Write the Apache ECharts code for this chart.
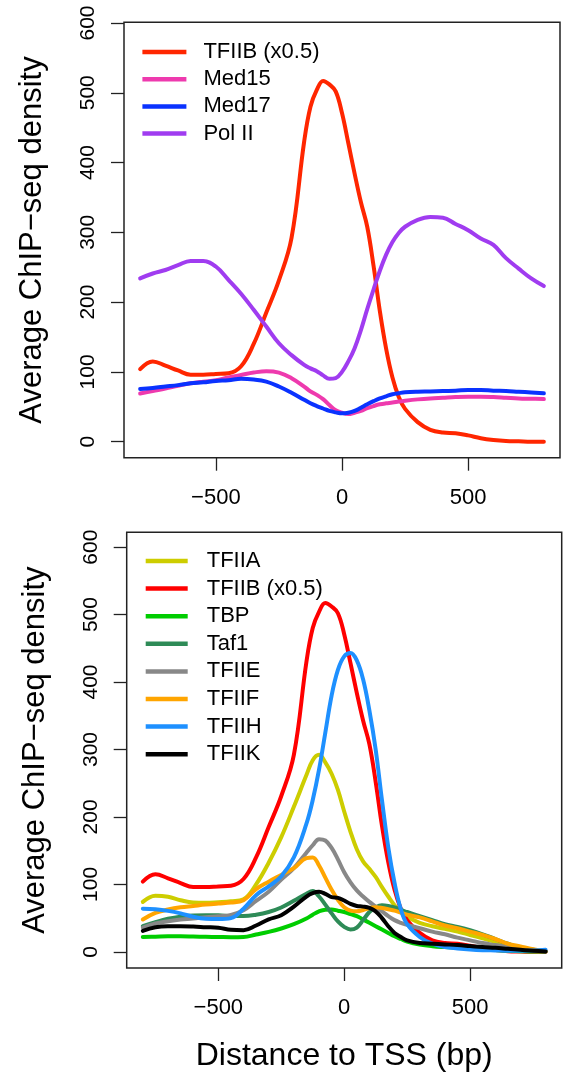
<!DOCTYPE html>
<html>
<head>
<meta charset="utf-8">
<script src="https://cdn.jsdelivr.net/npm/echarts@6/dist/echarts.min.js"></script>
<style>
html,body{margin:0;padding:0;background:#fff;}
#c{width:573px;height:1080px;}
</style>
</head>
<body>
<div id="c"></div>
<script>
// Distance to TSS (bp)
const DIST = [-800,-750,-700,-650,-600,-550,-500,-450,-400,-350,-300,-250,-200,-150,
  -125,-100,-75,-50,-25,0,25,50,75,100,125,150,175,200,225,250,
  300,350,400,450,500,550,600,650,700,750,800];

// Top panel
const TFIIB = [104,115,109,102,96,96,97,98,108,140,185,231,292,430,
  480,504,517,512,502,471,428,384,343,308,252,187,133,92,64,47,
  28,17,13,12,9,5,2.5,1,0.5,0,0];
const MED15 = [69,72.6,76,80,83.6,86,88,92,95.5,99,101,99,91,79,
  72,67,61,52.5,45,41.5,39.6,41.5,44,48,51,53.5,55,56,57.5,58.7,
  60.6,62,63,64,64.5,64.5,64,63,62,61.5,61];
const MED17 = [75.5,77,79,81,83.6,85,87,88,90,89,86,79,70,60,
  55,51,47.5,44,42,40.6,41.5,44,48.7,53.5,58,62,65,68,69.5,70.7,
  71.6,72,72.6,73,74,74,73,72.6,71.5,70.5,69.3];
const POL2 = [234,241,246,253,259,259,251,232,212,189,165,141,124,110,
  105,101,95,90,91,100,115,134,160,190,218,245,268,286,299,308,
  318,322,321,312,303,291,282,263,248,234,223];

// Bottom panel
const TFIIA = [74,83,81.5,76.5,73,72.6,73.6,75,78,100,132,170,215,262,
  284,292,281,264,240,208,178,152,134,123,111,96,82,69,59,52,
  43,38,34,30,25,20,15,10,6,3,1];
const TBP = [22,22.5,23,23,22.7,22.3,22,21.7,22,25.7,29.6,34.6,41,49.4,
  55,60,62.5,62.7,61,59,56,53,48,43,38,33,28,23,19,15.3,
  10.9,8.4,7,6,5,4,2.5,1.5,1,0.5,0.5];
const TAF1 = [38,44,49,52,54,54.3,54.3,53,53,55,59,65.7,75.6,86,
  90,82,70,57,45,37,33,36,47,59,66,69,68,65.7,62,59,
  53,47,41,37,32,26,19,12,6,3,1];
const TFIIE = [36,42,45.4,48,49.4,51.4,52.8,54.8,61.7,75.6,89,107,124,147,
  158,167,165,154,137,118,103,91,82,74,67,60,53,47,43,40,
  35,30,26,21,17,13,10,7,5,2,1];
const TFIIF = [48,57.8,62.7,66,68,70,71.6,73,76.5,93,104,114,124,139,
  140,128,110,92,77,66,61,60,62,65,66,65,63,61,58,55,
  51,45,39,35,30,25,19,12,8,4,1];
const TFIIH = [64,63,60.7,57,52,49,48.5,50,64,84,97,112,140,190,
  225,270,325,380,418,438,443,432,404,358,300,225,155,102,63,41,
  22,12,7,5,3.5,2.5,2,1.5,1.5,2,3];
const TFIIK = [31,36.5,38,38,37.5,36.5,35.6,32.6,32,39,48,54.3,67,82,
  87,89,86,81,80,76,71,68,67,65,60,50,38,28,22,17,
  13,12,11,10,8.5,7,6,4.5,3,1.5,0.5];

const X_TICKS = [-500, 0, 500];
const Y_TICKS = [0, 100, 200, 300, 400, 500, 600];

const TOP_SERIES = [
  {name: 'TFIIB (x0.5)', values: TFIIB, color: '#FF2600'},
  {name: 'Med15', values: MED15, color: '#EE3AAE'},
  {name: 'Med17', values: MED17, color: '#0A32FF'},
  {name: 'Pol II', values: POL2, color: '#A03CF0'}
];
const BOTTOM_SERIES = [
  {name: 'TFIIA', values: TFIIA, color: '#CDCD00'},
  {name: 'TFIIB (x0.5)', values: TFIIB, color: '#FF0000'},
  {name: 'TBP', values: TBP, color: '#00CD00'},
  {name: 'Taf1', values: TAF1, color: '#2E8B57'},
  {name: 'TFIIE', values: TFIIE, color: '#888888'},
  {name: 'TFIIF', values: TFIIF, color: '#FFA500'},
  {name: 'TFIIH', values: TFIIH, color: '#1E90FF'},
  {name: 'TFIIK', values: TFIIK, color: '#000000'}
];

const FONT = 'Liberation Sans, Arial, Helvetica, sans-serif';
const fmt = v => (v < 0 ? '\u2212' + Math.abs(v) : String(v));

function xAxis(gridIndex, withName) {
  return {
    type: 'value', gridIndex, min: -864, max: 864,
    axisLine: {show: false, onZero: false},
    axisTick: {show: true, inside: false, length: 13, customValues: X_TICKS,
      lineStyle: {color: '#222', width: 1.3}},
    axisLabel: {show: true, customValues: X_TICKS, margin: 29, formatter: fmt,
      color: '#000', fontSize: 22, fontFamily: FONT},
    splitLine: {show: false},
    name: withName ? 'Distance to TSS (bp)' : '',
    nameLocation: 'middle', nameGap: 72,
    nameTextStyle: {fontSize: 32, color: '#000', fontFamily: FONT}
  };
}
function yAxis(gridIndex, min, max) {
  return {
    type: 'value', gridIndex, min, max,
    axisLine: {show: false, onZero: false},
    axisTick: {show: true, inside: false, length: 13, customValues: Y_TICKS,
      lineStyle: {color: '#222', width: 1.3}},
    axisLabel: {show: true, customValues: Y_TICKS, rotate: 90, margin: 25,
      color: '#000', fontSize: 21, fontFamily: FONT},
    splitLine: {show: false},
    name: 'Average ChIP\u2212seq density',
    nameLocation: 'middle', nameGap: 76, nameRotate: 90,
    nameTextStyle: {fontSize: 31, color: '#000', fontFamily: FONT}
  };
}
function makeSeries(list, idx) {
  return list.map(s => ({
    type: 'line', name: s.name, xAxisIndex: idx, yAxisIndex: idx,
    data: DIST.map((d, i) => [d, s.values[i]]),
    showSymbol: false, symbol: 'none', smooth: 0.4,
    lineStyle: {color: s.color, width: 4, cap: 'round', join: 'round'},
    itemStyle: {color: s.color},
    silent: true
  }));
}
function makeLegend(list, left, top, gap, iw, pad) {
  return {
    orient: 'vertical', left, top, padding: 0, itemGap: gap,
    itemWidth: iw, itemHeight: 4.5, icon: 'rect',
    selectedMode: false,
    textStyle: {fontSize: 22, lineHeight: 20, color: '#000', fontFamily: FONT, padding: [0, 0, 0, pad]},
    data: list.map(s => ({name: s.name, icon: 'rect',
      itemStyle: {color: s.color, borderWidth: 0},
      lineStyle: {color: s.color, width: 4.5}}))
  };
}

const chart = echarts.init(document.getElementById('c'), null, {renderer: 'canvas'});
chart.setOption({
  animation: false,
  backgroundColor: '#fff',
  grid: [
    {left: 124, top: 22.3, width: 436, height: 435.4, show: true, borderColor: '#222', borderWidth: 1.5, backgroundColor: 'transparent', containLabel: false},
    {left: 126.7, top: 532.3, width: 435, height: 435.7, show: true, borderColor: '#222', borderWidth: 1.5, backgroundColor: 'transparent', containLabel: false}
  ],
  xAxis: [xAxis(0, false), xAxis(1, true)],
  yAxis: [yAxis(0, -23, 601), yAxis(1, -24, 622)],
  legend: [
    makeLegend(TOP_SERIES, 142.4, 41, 5.2, 44, 12),
    makeLegend(BOTTOM_SERIES, 145.7, 550, 5.6, 42, 14)
  ],
  series: makeSeries(TOP_SERIES, 0).concat(makeSeries(BOTTOM_SERIES, 1))
});
</script>
</body>
</html>
